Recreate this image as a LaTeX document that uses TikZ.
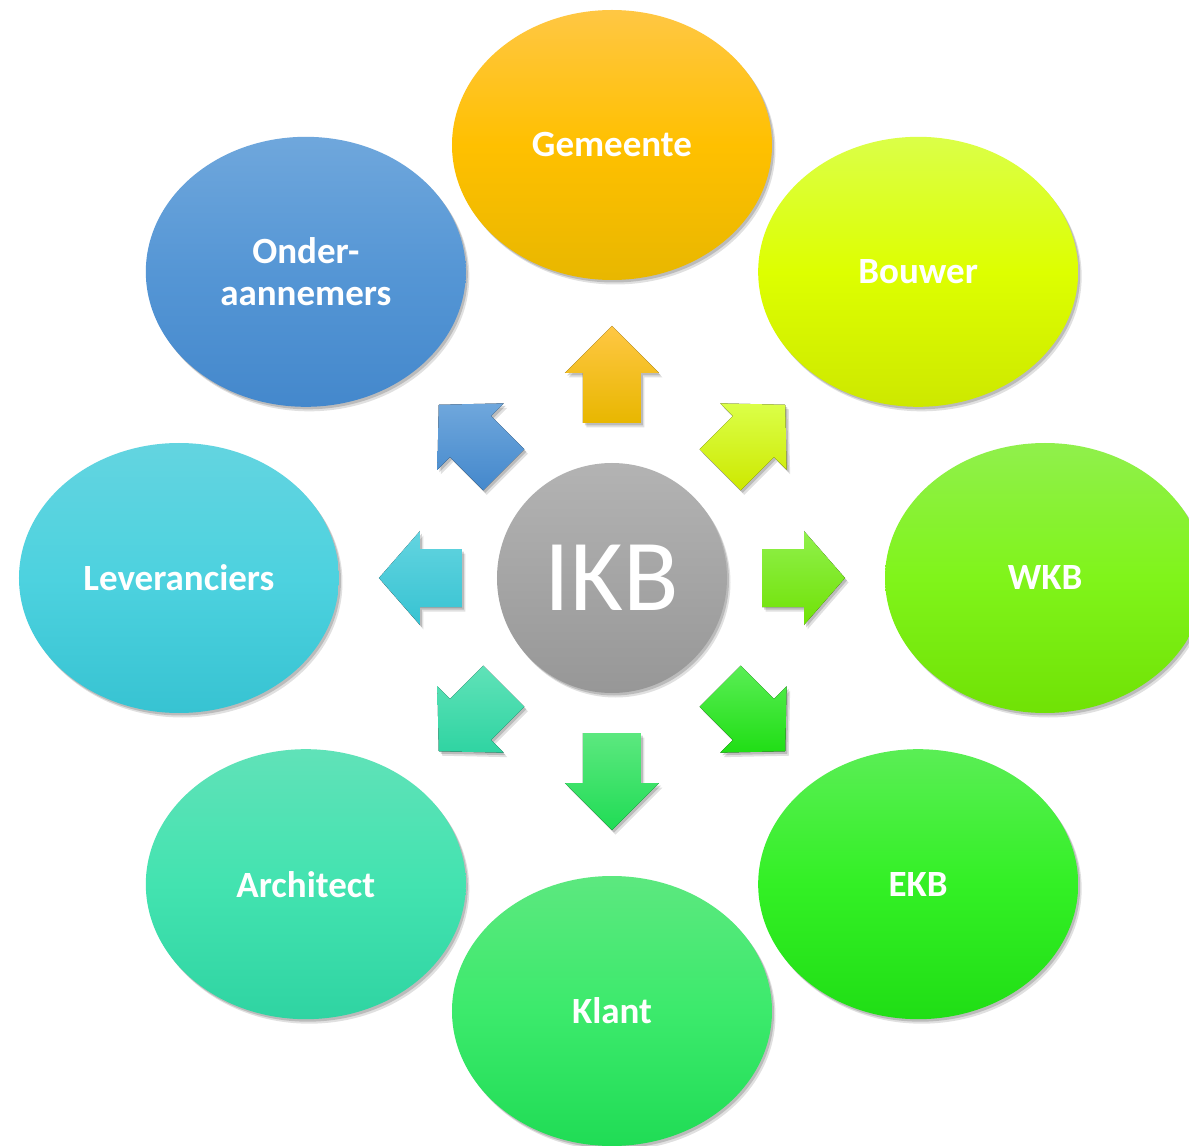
\documentclass[tikz,border=0pt]{standalone}
\usepackage{fontspec}
\setmainfont{Carlito}
\usetikzlibrary{shapes.geometric,shadows}

\definecolor{gemT}{HTML}{FFC744}\definecolor{gemM}{HTML}{FFC000}\definecolor{gemB}{HTML}{E8B700}
\definecolor{bouT}{HTML}{DBFF48}\definecolor{bouM}{HTML}{DDFF00}\definecolor{bouB}{HTML}{CDE800}
\definecolor{wkbT}{HTML}{90F04C}\definecolor{wkbM}{HTML}{80F41A}\definecolor{wkbB}{HTML}{70E205}
\definecolor{ekbT}{HTML}{5AEE55}\definecolor{ekbM}{HTML}{33F025}\definecolor{ekbB}{HTML}{20DE15}
\definecolor{klaT}{HTML}{5CE87F}\definecolor{klaM}{HTML}{3CEA6C}\definecolor{klaB}{HTML}{20DC55}
\definecolor{arcT}{HTML}{60E2B8}\definecolor{arcM}{HTML}{43E3B0}\definecolor{arcB}{HTML}{2FD4A2}
\definecolor{levT}{HTML}{63D4E0}\definecolor{levM}{HTML}{4DD2DF}\definecolor{levB}{HTML}{37C3D2}
\definecolor{ondT}{HTML}{6FA7DC}\definecolor{ondM}{HTML}{5596D5}\definecolor{ondB}{HTML}{4488CC}
\definecolor{ikbT}{HTML}{B3B3B3}\definecolor{ikbB}{HTML}{979797}

\tikzset{
  softshadow/.style={
    drop shadow={shadow xshift=3.5pt, shadow yshift=-4.5pt, opacity=0.12, fill=black},
    drop shadow={shadow xshift=2pt, shadow yshift=-2.5pt, opacity=0.16, fill=black}},
  bubble/.style={ellipse, minimum width=320pt, minimum height=270pt, inner sep=0pt, outer sep=0pt,
    text=white, font=\bfseries\fontsize{37}{42}\selectfont, align=center, softshadow},
  hub/.style={circle, minimum size=230pt, inner sep=0pt, outer sep=0pt,
    text=white, font=\fontsize{102}{102}\selectfont, softshadow},
  blockarrow/.style={softshadow}
}

% angle, r0, r1, r2, top colour, bottom colour
\newcommand\radarrow[6]{%
  \fill[blockarrow, top color=#5, bottom color=#6]
    ([shift={(#1+90:29)}]#1:#2) -- ([shift={(#1+90:29)}]#1:#3) --
    ([shift={(#1+90:47)}]#1:#3) -- (#1:#4) --
    ([shift={(#1-90:47)}]#1:#3) -- ([shift={(#1-90:29)}]#1:#3) --
    ([shift={(#1-90:29)}]#1:#2) -- cycle;}

\begin{document}
\begin{tikzpicture}[x=1pt,y=1pt]
\useasboundingbox (-612,-568) rectangle (577,578);
\fill[white] (-612,-568) rectangle (577,578);

\node[bubble, top color=gemT, bottom color=gemB, middle color=gemM] (gem) at (90:433) {Gemeente};
\node[bubble, top color=bouT, bottom color=bouB, middle color=bouM] (bou) at (45:433) {Bouwer};
\node[bubble, top color=wkbT, bottom color=wkbB, middle color=wkbM] (wkb) at (0:433) {WKB};
\node[bubble, top color=ekbT, bottom color=ekbB, middle color=ekbM] (ekb) at (-45:433) {EKB};
\node[bubble, top color=klaT, bottom color=klaB, middle color=klaM] (kla) at (-90:433) {Klant};
\node[bubble, top color=arcT, bottom color=arcB, middle color=arcM] (arc) at (-135:433) {Architect};
\node[bubble, top color=levT, bottom color=levB, middle color=levM] (lev) at (180:433) {Leveranciers};
\node[bubble, top color=ondT, bottom color=ondB, middle color=ondM] (ond) at (135:433) {Onder-\\aannemers};

\radarrow{90}{155}{205}{252}{gemT}{gemB}
\radarrow{45}{153}{200}{245}{bouT}{bouB}
\radarrow{0}{150}{192}{233}{wkbT}{wkbB}
\radarrow{-45}{153}{200}{245}{ekbT}{ekbB}
\radarrow{-90}{155}{205}{252}{klaT}{klaB}
\radarrow{-135}{153}{200}{245}{arcT}{arcB}
\radarrow{180}{150}{192}{233}{levT}{levB}
\radarrow{135}{153}{200}{245}{ondT}{ondB}

\node[hub, top color=ikbT, bottom color=ikbB] (ikb) at (0,0) {IKB};
\end{tikzpicture}
\end{document}
